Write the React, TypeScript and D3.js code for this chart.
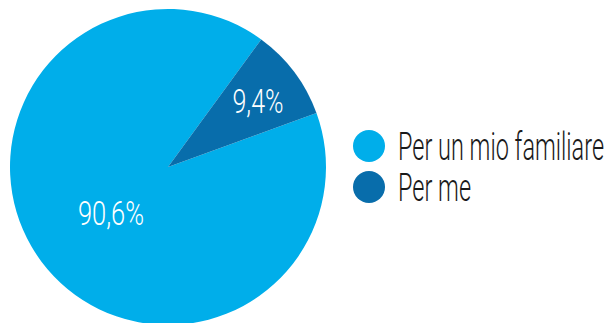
import React, { useLayoutEffect, useRef, useState } from "react";
import * as d3 from "d3";

const categories = ["Per un mio familiare", "Per me"];
const values = [90.6, 9.4];
const labels = ["90,6%", "9,4%"];
const colors = ["#00aeea", "#086dab"];

function FitText(props: { x: number; y: number; w: number; anchor: "start" | "middle"; size: number; fill: string; children: string }) {
  const ref = useRef<SVGTextElement>(null);
  const [s, setS] = useState(0.7);
  useLayoutEffect(() => {
    if (ref.current) {
      const len = ref.current.getComputedTextLength();
      if (len > 0) setS(props.w / len);
    }
  }, [props.w, props.children]);
  return (
    <g transform={`translate(${props.x},${props.y}) scale(${s},1)`}>
      <text ref={ref} x={0} y={0} textAnchor={props.anchor} fill={props.fill}
        fontFamily="Roboto, 'Liberation Sans', sans-serif" fontWeight={300} fontSize={props.size}>
        {props.children}
      </text>
    </g>
  );
}

export default function App() {
  const W = 609, H = 323;
  const cx = 168, cy = 167, r = 158;
  const startRad = (70 * Math.PI) / 180;
  const pie = d3.pie<number>().sort(null).startAngle(startRad).endAngle(startRad + 2 * Math.PI);
  const arcs = pie(values);
  const arc = d3.arc<d3.PieArcDatum<number>>().innerRadius(0).outerRadius(r);
  const labelPos = [
    { x: 111, y: 225, w: 66 },
    { x: 258, y: 113, w: 51 },
  ];
  const legendY = [146, 187];
  const legendW = [206, 73];
  return (
    <svg width={W} height={H} style={{ position: "absolute", left: 0, top: 0 }}>
      <g transform={`translate(${cx},${cy})`}>
        {arcs.map((a, i) => (
          <path key={i} d={arc(a) || ""} fill={colors[i]} />
        ))}
      </g>
      {labels.map((l, i) => (
        <FitText key={l} x={labelPos[i].x} y={labelPos[i].y} w={labelPos[i].w} anchor="middle" size={34} fill="#fff">{l}</FitText>
      ))}
      {categories.map((c, i) => (
        <g key={c}>
          <circle cx={369} cy={legendY[i]} r={16} fill={colors[i]} />
          <FitText x={398} y={legendY[i] + 14} w={legendW[i]} anchor="start" size={38} fill="#1a1a1a">{c}</FitText>
        </g>
      ))}
    </svg>
  );
}
